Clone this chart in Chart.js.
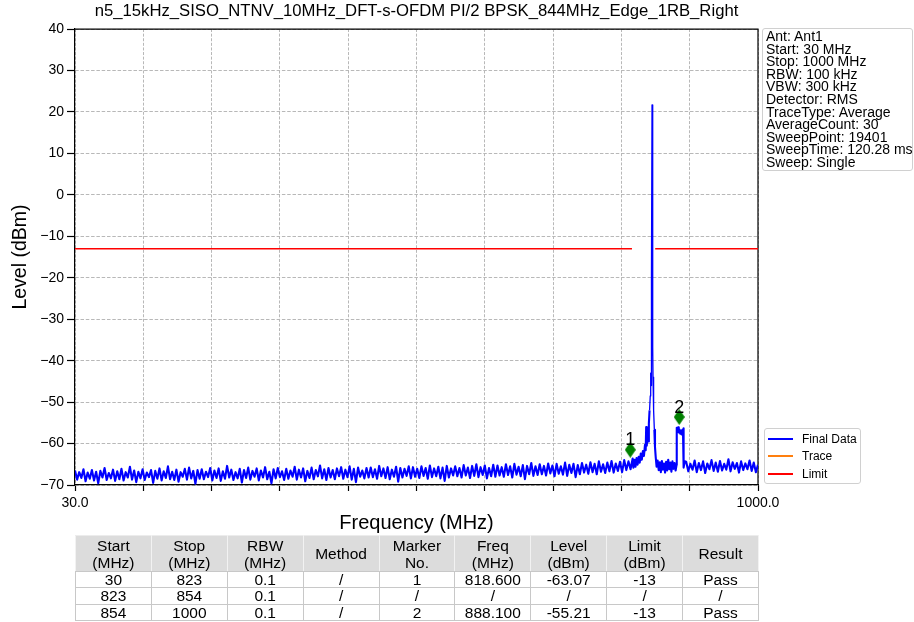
<!DOCTYPE html>
<html>
<head>
<meta charset="utf-8">
<script src="https://cdn.jsdelivr.net/npm/chart.js@4.4.1/dist/chart.umd.min.js"></script>
<style>
  html, body { margin: 0; padding: 0; background: #fff; }
  body { width: 914px; height: 622px; position: relative; overflow: hidden; font-family: "Liberation Sans", Arial, sans-serif; color: #000; }
  #chart { position: absolute; left: 0; top: 0; }
  #info { position: absolute; left: 762px; top: 28px; width: 151px; height: 143px; border: 1px solid #d0d0d0; border-radius: 3px;
          box-sizing: border-box; padding: 1px 0 0 3px; font-size: 14px; line-height: 12.6px; white-space: pre; }
  #legend { position: absolute; left: 764px; top: 428px; width: 97px; height: 56px; border: 1px solid #d0d0d0; border-radius: 3px;
            box-sizing: border-box; font-size: 12px; }
  .item { position: absolute; left: 3px; width: 90px; height: 14px; }
  .swatch { position: absolute; left: 0; top: 6px; width: 25px; height: 2px; }
  .lab { position: absolute; left: 34px; top: 0; line-height: 14px; white-space: nowrap; }
  #table { position: absolute; left: 75px; top: 535px; width: 684px; border-collapse: collapse; table-layout: fixed;
           font-family: "Liberation Sans", Arial, sans-serif; font-size: 15.5px; }
  #table th, #table td { border: 1px solid #c8c8c8; text-align: center; padding: 0; font-weight: normal; white-space: nowrap; }
  #table th { background: #dcdcdc; line-height: 17px; border-color: #ececec #f2f2f2 #c8c8c8 #f2f2f2; }
  #table td { line-height: 15px; }
  #table tr.head { height: 36px; }
  #table tr.row { height: 16.3px; }
</style>
</head>
<body>
<canvas id="chart" width="914" height="538"></canvas>
<div id="info"></div>
<div id="legend"></div>
<table id="table"></table>
<script>
// sweep below the carrier: 30 ... 822 MHz, 3 MHz apart
const sweepStartLow = 30;
const sweepStep = 3;
const levelsLow = [
  -66.5, -68.7, -66.9, -68.3, -66.2, -69.1, -67.0, -68.5, -66.4, -68.9, -66.8, -69.6, -66.6, -68.2, -65.9, -68.8, -67.1, -68.4, -66.3, -69.0,
  -66.7, -68.6, -66.1, -68.9, -66.9, -68.2, -65.6, -68.7, -66.5, -69.3, -66.8, -68.4, -66.2, -68.8, -67.0, -68.1, -66.4, -69.5, -66.6, -68.5,
  -66.0, -68.9, -66.7, -68.3, -65.5, -68.6, -66.8, -68.8, -66.3, -69.2, -66.9, -68.0, -66.1, -68.7, -65.8, -68.4, -66.6, -69.7, -66.4, -68.5,
  -66.2, -68.6, -66.8, -68.1, -65.9, -68.9, -66.5, -68.3, -66.0, -69.0, -66.7, -68.5, -65.4, -68.2, -66.3, -68.8, -66.9, -68.4, -66.1, -69.4,
  -66.4, -68.3, -65.8, -68.7, -66.6, -68.0, -66.0, -68.9, -66.5, -68.2, -65.7, -68.6, -66.8, -69.6, -66.2, -68.4, -65.9, -68.1, -66.7, -68.8,
  -66.1, -68.5, -66.5, -68.0, -65.6, -68.7, -66.3, -68.2, -66.0, -69.1, -66.6, -68.3, -65.8, -68.6, -66.4, -67.9, -65.3, -68.4, -66.2, -68.8,
  -65.9, -68.2, -66.4, -68.6, -66.0, -67.9, -65.7, -68.5, -66.3, -68.1, -65.5, -68.7, -66.1, -69.3, -65.8, -68.0, -66.5, -68.4, -65.9, -68.2,
  -65.8, -68.1, -66.2, -68.5, -65.4, -67.9, -66.0, -68.3, -65.7, -68.6, -66.3, -68.0, -65.6, -69.2, -65.9, -68.2, -66.1, -67.8, -65.5, -68.4,
  -65.7, -68.0, -66.1, -68.3, -65.5, -67.8, -65.9, -68.5, -65.3, -68.1, -66.0, -67.9, -65.6, -68.4, -65.8, -69.0, -65.4, -68.2, -66.0, -67.7,
  -65.5, -67.9, -65.9, -68.2, -65.2, -67.7, -65.8, -68.3, -65.4, -67.8, -65.0, -68.1, -65.7, -67.6, -65.3, -68.4, -65.9, -67.9, -65.1, -68.0,
  -65.3, -67.7, -65.7, -68.0, -65.0, -67.6, -65.5, -68.2, -64.9, -67.5, -65.6, -67.9, -65.2, -68.6, -65.4, -67.4, -64.7, -67.8, -65.5, -67.6,
  -65.0, -67.4, -65.4, -67.7, -64.8, -67.2, -65.3, -67.9, -64.9, -67.3, -65.5, -67.5, -64.6, -67.8, -65.1, -67.1, -64.9, -68.1, -65.2, -67.4,
  -64.7, -67.0, -65.1, -67.3, -64.5, -66.9, -64.9, -67.4, -64.3, -66.8, -65.0, -67.1, -64.6, -66.7, -64.2, -67.0, -64.8, -66.6, -64.4, -66.9,
  -64.0, -66.4, -64.3, -66.2, -63.6
];

// carrier edge, spike and the block near marker 2
const carrierFreqs = [
  823, 824.5, 826, 827.5, 829, 830.5, 832, 833.5, 835, 836.5, 838, 839.5, 840.5, 841.2, 842, 843, 844, 845, 846, 847,
  847.6, 848.3, 848.7, 849.5, 850.3, 850.6, 850.9, 851.4, 852.1, 852.8, 853.7, 854.7, 856, 857.5, 859, 860.5, 862, 863.5, 865, 866.5,
  868, 869.5, 871, 872.5, 874, 875.5, 877, 878.5, 880, 881.5, 883, 884.3, 884.6, 885.5, 886.5, 887.5, 888.5, 889.5, 890.5, 891.5,
  892.5, 893.5, 894.2, 894.5, 896
];
const carrierLevels = [
  -65.8, -63.9, -65.6, -63.5, -65.1, -63.2, -64.6, -62.4, -63.9, -61.8, -63.0, -60.3, -61.6, -56.0, -60.5, -58.4, -59.5, -55.2, -52.0, -48.5,
  -43.0, -46.0, -20.0, 21.7, -20.0, -36.7, -44.0, -46.4, -52.0, -56.7, -60.8, -63.2, -65.6, -64.1, -66.4, -64.5, -66.9, -64.2, -66.3, -64.8,
  -67.0, -64.4, -66.5, -63.9, -66.2, -64.6, -66.8, -64.3, -66.1, -64.7, -66.5, -65.2, -56.2, -57.0, -56.1, -57.3, -56.6, -57.6, -56.9, -57.8,
  -56.7, -57.4, -56.3, -65.8, -64.3
];

// sweep above the carrier: 898 ... 1000 MHz
const sweepStartHigh = 898;
const levelsHigh = [
  -64.4, -66.7, -64.9, -66.3, -64.1, -66.9, -64.7, -66.4, -64.3, -67.1,
  -64.8, -66.2, -64.0, -66.6, -64.6, -66.8, -64.2, -66.5, -64.9, -66.3,
  -63.8, -66.7, -64.5, -66.1, -64.7, -67.0, -64.3, -66.4, -64.8, -66.2,
  -64.1, -66.6, -64.6, -66.9, -65.1
];

const limitFreqs = [30, 821, 837, 854, 1000];
const limitLevels = [-13, -13, null, -13, -13];

const markerNames = ['1', '2'];
const markerFreqs = [818.6, 888.1];
const markerLevels = [-61.5, -53.6];

const xTickValues = [30, 127, 224, 321, 418, 515, 612, 709, 806, 903, 1000];
const xTickLabels = ['30.0', '', '', '', '', '', '', '', '', '', '1000.0'];

const infoLines = [
  'Ant: Ant1', 'Start: 30 MHz', 'Stop: 1000 MHz', 'RBW: 100 kHz', 'VBW: 300 kHz', 'Detector: RMS',
  'TraceType: Average', 'AverageCount: 30', 'SweepPoint: 19401', 'SweepTime: 120.28 ms', 'Sweep: Single'
];

const tableHeader = ['Start<br>(MHz)', 'Stop<br>(MHz)', 'RBW<br>(MHz)', 'Method', 'Marker<br>No.', 'Freq<br>(MHz)', 'Level<br>(dBm)', 'Limit<br>(dBm)', 'Result'];
const tableRows = [
  ['30', '823', '0.1', '/', '1', '818.600', '-63.07', '-13', 'Pass'],
  ['823', '854', '0.1', '/', '/', '/', '/', '/', '/'],
  ['854', '1000', '0.1', '/', '2', '888.100', '-55.21', '-13', 'Pass']
];

const trace = [];
levelsLow.forEach((v, i) => trace.push({ x: sweepStartLow + i * sweepStep, y: v }));
carrierFreqs.forEach((f, i) => trace.push({ x: f, y: carrierLevels[i] }));
levelsHigh.forEach((v, i) => trace.push({ x: sweepStartHigh + i * sweepStep, y: v }));

const limit = limitFreqs.map((f, i) => ({ x: f, y: limitLevels[i] }));
const markers = markerFreqs.map((f, i) => ({ x: f, y: markerLevels[i] }));

// thin green diamond like the analyser marker
const diamond = document.createElement('canvas');
diamond.width = 11;
diamond.height = 16;
const dc = diamond.getContext('2d');
dc.fillStyle = '#008000';
dc.beginPath();
dc.moveTo(5.5, 0); dc.lineTo(11, 8); dc.lineTo(5.5, 16); dc.lineTo(0, 8);
dc.closePath();
dc.fill();

const frame = {
  id: 'frame',
  beforeDatasetsDraw(chart) {
    const { ctx, chartArea: a } = chart;
    ctx.save();
    ctx.strokeStyle = '#000';
    ctx.lineWidth = 1.2;
    ctx.beginPath();
    ctx.moveTo(a.left, a.top); ctx.lineTo(a.right, a.top); ctx.lineTo(a.right, a.bottom);
    ctx.stroke();
    ctx.restore();
  }
};

const markerLabels = {
  id: 'markerLabels',
  afterDatasetsDraw(chart) {
    const ctx = chart.ctx;
    const meta = chart.getDatasetMeta(3);
    ctx.save();
    ctx.font = '18px "Liberation Sans", Arial, sans-serif';
    ctx.fillStyle = '#000';
    ctx.textAlign = 'center';
    ctx.textBaseline = 'alphabetic';
    meta.data.forEach((pt, i) => ctx.fillText(markerNames[i], pt.x, pt.y - 4.5));
    ctx.restore();
  }
};

const font = '"Liberation Sans", Arial, sans-serif';

const chart = new Chart(document.getElementById('chart'), {
  type: 'line',
  data: {
    datasets: [
      {
        label: 'Final Data', data: trace, borderColor: '#0000ff', borderWidth: 1.3, borderJoinStyle: 'round',
        pointRadius: 0, order: 1,
        // the dense sweep reads as a solid band, the carrier itself as a thin line
        segment: { borderWidth: c => (c.p0.parsed.x >= 846 && c.p1.parsed.x <= 853) ? 1.3 : 2.1 }
      },
      { label: 'Trace', data: [], borderColor: '#ff7f0e', borderWidth: 1.5, pointRadius: 0, order: 3 },
      { label: 'Limit', data: limit, borderColor: '#ff0000', borderWidth: 1.5, pointRadius: 0, spanGaps: false, order: 2 },
      { label: '', data: markers, showLine: false, pointStyle: diamond, pointRadius: 6, order: 0 }
    ]
  },
  options: {
    responsive: false,
    animation: false,
    devicePixelRatio: 1,
    layout: { padding: { left: 0, right: 156, top: 0, bottom: 0 } },
    plugins: {
      legend: { display: false },
      tooltip: { enabled: false },
      title: {
        display: true,
        fullSize: false,
        text: 'n5_15kHz_SISO_NTNV_10MHz_DFT-s-OFDM PI/2 BPSK_844MHz_Edge_1RB_Right',
        color: '#000',
        font: { family: font, size: 16.7, weight: 'normal', lineHeight: 1.2 },
        padding: { top: 1, bottom: 8 }
      }
    },
    scales: {
      x: {
        type: 'linear',
        min: 30,
        max: 1000,
        afterBuildTicks: (scale) => { scale.ticks = xTickValues.map(v => ({ value: v })); },
        afterFit: (scale) => { scale.height = 53; },
        ticks: {
          autoSkip: false, maxRotation: 0, padding: 4, color: '#000',
          font: { family: font, size: 14 },
          callback: (v, i) => xTickLabels[i]
        },
        grid: { color: '#b8b8b8', lineWidth: 1, tickLength: 6, tickColor: '#000', tickWidth: 1.2 },
        border: { color: '#000', width: 1.2, dash: [3, 1.6] },
        title: { display: true, text: 'Frequency (MHz)', color: '#000', font: { family: font, size: 20 }, padding: { top: 0, bottom: 3 } }
      },
      y: {
        min: -70,
        max: 40,
        afterFit: (scale) => { scale.width = 75; },
        ticks: {
          stepSize: 10, padding: 3, color: '#000',
          font: { family: font, size: 14 },
          callback: (v) => String(v).replace('-', '\u2212')
        },
        grid: { color: '#b8b8b8', lineWidth: 1, tickLength: 8, tickColor: '#000', tickWidth: 1.2 },
        border: { color: '#000', width: 1.2, dash: [3.5, 1.8] },
        title: { display: true, text: 'Level (dBm)', color: '#000', font: { family: font, size: 19.5 }, padding: { top: 9, bottom: 0 } }
      }
    }
  },
  plugins: [frame, markerLabels]
});

document.getElementById('info').textContent = infoLines.join('\n');

const legend = document.getElementById('legend');
chart.data.datasets.filter(d => d.label).forEach((d, i) => {
  const item = document.createElement('div');
  item.className = 'item';
  item.style.top = (3 + i * 17.3) + 'px';
  item.innerHTML = '<span class="swatch" style="background:' + d.borderColor + '"></span><span class="lab">' + d.label + '</span>';
  legend.appendChild(item);
});

const table = document.getElementById('table');
let html = '<tr class="head">' + tableHeader.map(h => '<th>' + h + '</th>').join('') + '</tr>';
tableRows.forEach(r => { html += '<tr class="row">' + r.map(c => '<td>' + c + '</td>').join('') + '</tr>'; });
table.innerHTML = html;
</script>
</body>
</html>
